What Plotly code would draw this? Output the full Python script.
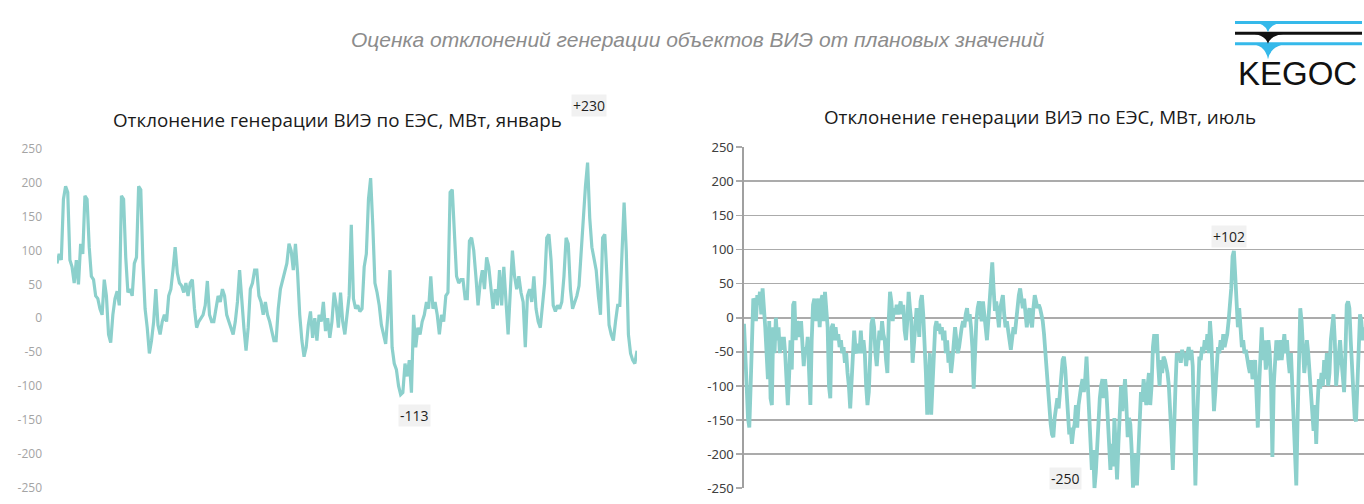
import plotly.graph_objects as go

W, H = 1364, 504

# ---------------- data ----------------
jan_title = "Отклонение генерации ВИЭ по ЕЭС, МВт, январь"
jul_title = "Отклонение генерации ВИЭ по ЕЭС, МВт, июль"
main_title = "Оценка отклонений генерации объектов ВИЭ от плановых значений"

jan_values = [
    81, 95, 86, 176, 195, 186, 86, 76, 52, 86, 50, 110, 95, 181, 176, 105, 62, 57, 33, 29,
    14, 5, 57, 33, -24, -36, 5, 29, 40, 19, 181, 176, 90, 38, 43, 33, 81, 90, 195, 190,
    81, 14, -14, -52, -33, -5, 43, -10, -24, -5, 5, -5, 33, 43, 71, 105, 67, 52, 48, 38,
    52, 33, 52, 57, 14, -14, -5, 0, 5, 19, 55, 5, -5, -5, 14, 33, 24, 43, 33, 5,
    -5, -14, -24, -5, 24, 71, 19, -14, -48, -14, 43, 52, 71, 71, 33, 24, 5, 24, 5, -5,
    -19, -33, -33, 14, 43, 57, 67, 81, 110, 100, 71, 110, 67, 5, -33, -57, -43, -10, 10, -29,
    0, -33, 5, -5, 24, -19, 0, -29, -5, 38, 19, -14, 38, -5, -24, 0, 33, 138, 29, 14,
    19, 10, 14, 76, 95, 176, 207, 138, 52, 38, 19, -10, -24, -38, 5, 71, -43, -67, -76, -100,
    -113, -110, -67, -86, -62, -110, 5, -43, -14, -24, -5, 5, 24, 14, 62, 14, 24, 5, -24, 5,
    -5, 33, 38, 186, 190, 119, 62, 52, 57, 57, 29, 29, 114, 119, 100, 62, 19, 52, 71, 43,
    90, 76, 48, 14, 43, 19, 71, 19, 76, 33, -24, 38, 100, 62, 43, 62, 38, 24, -43, 33,
    43, 24, 62, 14, -5, -14, 14, 52, 119, 124, 86, 19, 10, 19, 14, 24, 62, 119, 110, 43,
    14, 24, 33, 48, 100, 152, 195, 230, 148, 105, 90, 71, 33, 5, 119, 124, 62, -10, -24, -33,
    -5, 19, 19, 100, 171, 100, -24, -52, -62, -67, -48,
]

jul_values = [
    -9, -76, -100, -147, -161, -100, -5, 28, 24, -5, 33, 19, 38, 5, 43, 19, -14, -52, -90, -5,
    -118, -128, -14, -52, 0, -33, -14, -52, -28, -47, -28, -52, -85, -128, -85, -33, -76, 19, 24, -33,
    -5, -14, -28, -5, -47, -71, -43, -52, -28, -100, -128, -33, 19, 28, -5, 14, 28, -14, 24, 33,
    -5, 38, 5, -14, -100, -118, -14, -9, -33, -14, -33, -24, -43, -33, -52, -43, -66, -52, -81, -100,
    -133, -90, -33, -19, -47, -52, -38, -52, -19, -52, -33, -52, -100, -128, -109, -62, -9, 0, -14, -52,
    -71, -43, -19, -33, -5, -24, -33, -62, -81, -5, 38, 24, -5, 14, 5, 19, 5, 14, 24, 5,
    19, -19, -33, -5, 38, 14, -5, -66, -33, -5, 14, 0, -28, 24, 33, 5, -33, -81, -142, -90,
    -52, -142, -100, -33, -14, -5, -19, -9, -24, -14, -33, -19, -52, -33, -66, -52, -81, -62, -43, -14,
    -33, -52, -43, -24, -14, -5, -14, 5, 14, -5, 5, -14, -43, -104, -52, -5, 14, 24, 10, -5,
    24, 5, -14, -33, -5, 24, 48, 81, 43, 10, 24, 0, -14, 14, 24, 33, 5, -14, -5, -24,
    -33, -47, -33, -14, -24, -5, 24, 33, 43, 24, 14, 28, 5, -14, 5, 14, -5, -14, 14, 33,
    24, 14, 19, 14, 5, -5, -24, -52, -81, -109, -137, -156, -171, -175, -147, -128, -118, -133, -109, -81,
    -62, -57, -76, -109, -147, -171, -161, -185, -166, -156, -128, -161, -128, -109, -100, -90, -109, -90, -57, -100,
    -147, -204, -223, -194, -250, -227, -185, -147, -118, -100, -90, -118, -90, -109, -147, -194, -223, -185, -218, -147,
    -194, -237, -185, -128, -100, -137, -118, -90, -128, -175, -147, -156, -194, -249, -232, -199, -246, -194, -147, -109,
    -123, -90, -109, -128, -100, -81, -128, -100, -43, -24, -52, -24, -71, -100, -62, -81, -57, -62, -71, -81,
    -100, -128, -175, -223, -147, -100, -52, -62, -52, -66, -47, -57, -52, -71, -52, -43, -62, -47, -71, -147,
    -246, -166, -81, -57, -62, -43, -52, -33, -47, -24, -52, -5, -33, -100, -137, -109, -62, -43, -52, -33,
    -47, -24, -43, -33, -24, -5, 14, 43, 90, 98, 62, 19, -14, 14, -19, -43, -33, -52, -47, -62,
    -71, -81, -62, -90, -81, -62, -109, -161, -100, -52, -14, -62, -33, -76, -62, -33, -52, -100, -204, -100,
    -52, -33, -62, -52, -33, -62, -43, -24, -52, -33, -62, -81, -52, -100, -147, -194, -246, -147, -33, 14,
    -5, -52, -81, -62, -33, -52, -81, -109, -147, -166, -128, -185, -128, -90, -104, -81, -100, -62, -90, -52,
    -100, -81, -33, -14, 5, -33, -100, -76, -52, -33, -62, -90, -109, -52, 19, 24, 14, -33, -81, -128,
    -147, -152, -100, -43, 5, -5, -33, -14,
]

y_tickvals = [250, 200, 150, 100, 50, 0, -50, -100, -150, -200, -250]
y_ticktext = ["250", "200", "150", "100", "50", "0", "-50", "-100", "-150", "-200", "-250"]

jan_max_label = "+230"
jan_min_label = "-113"
jul_max_label = "+102"
jul_min_label = "-250"

# ---------------- helpers ----------------
def px(x):
    return x / W

def py(y):
    return 1 - y / H

LINE = "rgb(140,208,204)"

jan_x = list(range(len(jan_values)))
jul_x = list(range(len(jul_values)))

fig = go.Figure()
fig.add_trace(go.Scatter(x=jan_x, y=jan_values, mode="lines",
                         line=dict(color=LINE, width=3.2), xaxis="x", yaxis="y",
                         hoverinfo="skip", showlegend=False))
fig.add_trace(go.Scatter(x=jul_x, y=jul_values, mode="lines",
                         line=dict(color=LINE, width=3.8), xaxis="x2", yaxis="y2",
                         hoverinfo="skip", showlegend=False))

fig.update_layout(
    width=W, height=H,
    margin=dict(l=0, r=0, t=0, b=0),
    paper_bgcolor="white", plot_bgcolor="white",
    showlegend=False,
    xaxis=dict(domain=[px(57), px(637)], range=[0, len(jan_values) - 1],
               visible=False, fixedrange=True),
    yaxis=dict(domain=[py(495), py(145)], range=[-250, 250],
               tickvals=y_tickvals, ticktext=y_ticktext,
               showgrid=False, zeroline=False, showline=False,
               ticks="", ticklabelstandoff=14,
               tickfont=dict(family="Open Sans", size=12, color="#a4a4a4")),
    xaxis2=dict(domain=[px(744), 1.0], range=[0, len(jul_values) - 1],
                visible=False, fixedrange=True),
    yaxis2=dict(domain=[py(496), py(143)], range=[-250, 250], anchor="x2",
                tickvals=y_tickvals, ticktext=y_ticktext,
                showgrid=True, gridcolor="#ababab", gridwidth=1.6,
                zeroline=False, showline=True, linecolor="#a0a0a0", linewidth=1.6,
                ticks="outside", ticklen=6, tickcolor="#ababab", tickwidth=1.6,
                tickfont=dict(family="Noto Sans", size=13, color="#404040")),
)

ann = []
C = dict(xanchor="center", yanchor="middle", showarrow=False, xref="paper", yref="paper")
# titles
ann.append(dict(text="<i>" + main_title + "</i>", x=px(697), y=py(32),
                font=dict(family="Liberation Sans", size=21, color="#8c8c8c"), **C))
ann.append(dict(text=jan_title, x=px(337), y=py(115),
                font=dict(family="Open Sans", size=18.8, color="#1a1a1a"), **C))
ann.append(dict(text=jul_title, x=px(1040), y=py(112),
                font=dict(family="Open Sans", size=18.8, color="#1a1a1a"), **C))

# extreme labels anchored to data
lab_font = dict(family="Open Sans", size=14, color="#1e1e1e")
D = dict(xanchor="center", yanchor="middle", showarrow=False, bgcolor="#f1f1f1")
jmax = max(range(len(jan_values)), key=lambda i: jan_values[i])
jmin = min(range(len(jan_values)), key=lambda i: jan_values[i])
umax = max(range(len(jul_values)), key=lambda i: jul_values[i])
umin = min(range(len(jul_values)), key=lambda i: jul_values[i])
ann.append(dict(text=jan_max_label, x=jmax, y=jan_values[jmax], xref="x", yref="y",
                yshift=57, xshift=1, font=lab_font, **D))
ann.append(dict(text=jan_min_label, x=jmin, y=jan_values[jmin], xref="x", yref="y",
                yshift=-21, xshift=14, font=lab_font, **D))
ann.append(dict(text=jul_max_label, x=umax, y=jul_values[umax], xref="x2", yref="y2",
                yshift=14, xshift=-5, font=lab_font, **D))
ann.append(dict(text=jul_min_label, x=umin, y=jul_values[umin], xref="x2", yref="y2",
                yshift=10, xshift=-29, font=lab_font, **D))

# logo text
ann.append(dict(text="KEGOC", x=px(1297), y=py(67),
                font=dict(family="Liberation Sans", size=33, color="#111111"), **C))
fig.update_layout(annotations=ann)

# logo graphics
BLUE = "#35b9ea"
shapes = []
for yy, col in [(14, BLUE), (25, "#111111"), (36, BLUE)]:
    shapes.append(dict(type="line", xref="paper", yref="paper",
                       x0=px(1235), x1=px(1362), y0=py(yy), y1=py(yy),
                       line=dict(color=col, width=3)))

def vpath(xl, xr, ytop, xt, ybot):
    return (f"M {px(xl)},{py(ytop)} Q {px(xt - 3)},{py(ytop)} {px(xt)},{py(ybot)} "
            f"Q {px(xt + 3)},{py(ytop)} {px(xr)},{py(ytop)} Z")

shapes.append(dict(type="path", xref="paper", yref="paper",
                   path=vpath(1252, 1286, 14, 1268, 24), fillcolor=BLUE, line=dict(width=0)))
shapes.append(dict(type="path", xref="paper", yref="paper",
                   path=vpath(1246, 1292, 25, 1268, 36), fillcolor="#111111", line=dict(width=0)))
shapes.append(dict(type="path", xref="paper", yref="paper",
                   path=vpath(1248, 1292, 36, 1268, 52), fillcolor=BLUE, line=dict(width=0)))
fig.update_layout(shapes=shapes)

fig.write_html("out.html",
               config={"displayModeBar": False, "staticPlot": True},
               post_script="document.body.style.margin='0';document.body.style.overflow='hidden';")
